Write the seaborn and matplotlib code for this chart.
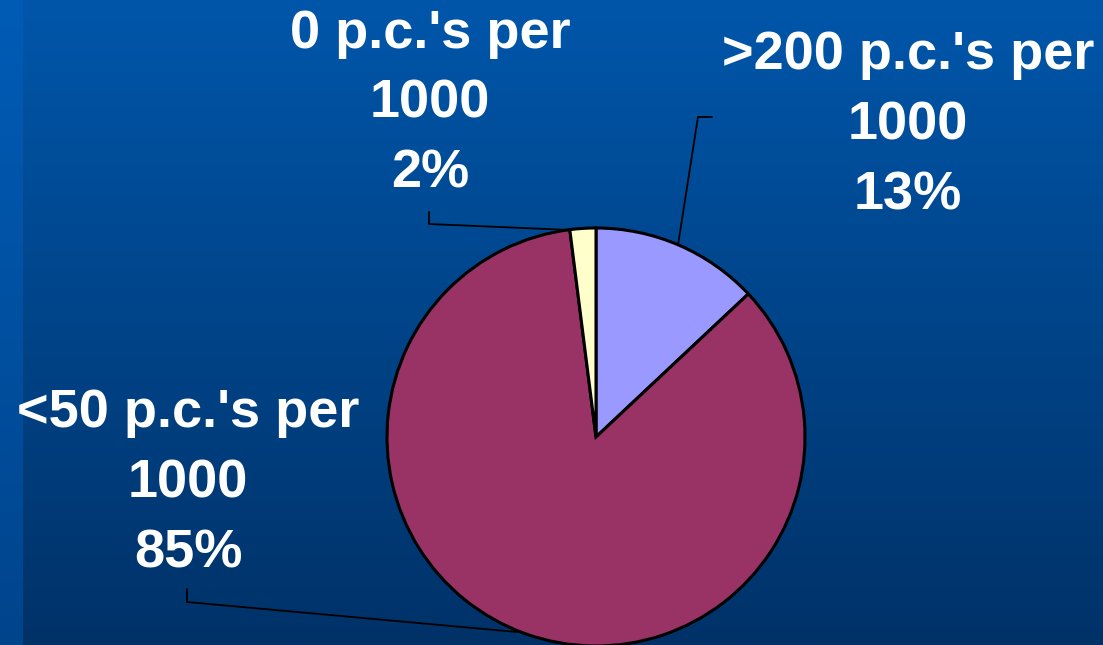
import numpy as np
import matplotlib
matplotlib.use("Agg")
import matplotlib.pyplot as plt
import seaborn as sns

# Share of practices by rate of p.c.'s per 1000
categories = [">200 p.c.'s per\n1000", "<50 p.c.'s per\n1000", "0 p.c.'s per\n1000"]
shares = [13, 85, 2]
colors = ["#9999FF", "#993366", "#FFFFCC"]

sns.set_theme(style="white")
plt.rcParams["font.family"] = ["Liberation Sans", "DejaVu Sans"]

W, H = 1103, 645
fig = plt.figure(figsize=(W / 100, H / 100), dpi=100)
ax = fig.add_axes([0, 0, 1, 1])
ax.set_xlim(0, W)
ax.set_ylim(0, H)
ax.set_aspect("equal")
ax.axis("off")

# Slide-style vertical blue gradient with a lighter strip on the left
t = np.linspace(0, 1, 256)[:, None]
top = np.array([0, 86, 170]) / 255
bot = np.array([0, 50, 104]) / 255
grad = top + (bot - top) * t[..., None]
grad = np.repeat(grad, 2, axis=1)
ax.imshow(grad, extent=[0, W, 0, H], aspect="auto", zorder=0)
stop = np.array([0, 92, 182]) / 255
sbot = np.array([0, 68, 140]) / 255
sgrad = stop + (sbot - stop) * t[..., None]
sgrad = np.repeat(sgrad, 2, axis=1)
ax.imshow(sgrad, extent=[0, 23, 0, H], aspect="auto", zorder=0)

cx, cy, r = 596, H - 437, 209
wedges, _ = ax.pie(shares, colors=colors, startangle=90, counterclock=False,
                   center=(cx, cy), radius=r, frame=True,
                   wedgeprops=dict(edgecolor="black", linewidth=2.2))
for w in wedges:
    w.set_zorder(2)
ax.set_xlim(0, W)
ax.set_ylim(0, H)
ax.axis("off")

# Label blocks: (center x, first baseline y in pixels from top)
label_pos = [(908, 69), (188, 427), (430, 48)]
# Leader lines: label elbow points then the point on the pie
leaders = [
    [(712, 117), (698, 117), (678, 245)],
    [(187, 589), (187, 602), (517, 632)],
    [(429, 212), (429, 224), (570, 230)],
]
line_gap = 70
for cat, val, (lx, ly), pts in zip(categories, shares, label_pos, leaders):
    lines = cat.split("\n") + [f"{val}%"]
    for i, s in enumerate(lines):
        ax.text(lx, H - (ly + i * line_gap), s, ha="center", va="baseline",
                color="white", fontsize=39, fontweight="bold", zorder=3)
    xs = [p[0] for p in pts]
    ys = [H - p[1] for p in pts]
    ax.plot(xs, ys, color="black", linewidth=1.3, zorder=1.5)

fig.savefig("out.png", dpi=100)
